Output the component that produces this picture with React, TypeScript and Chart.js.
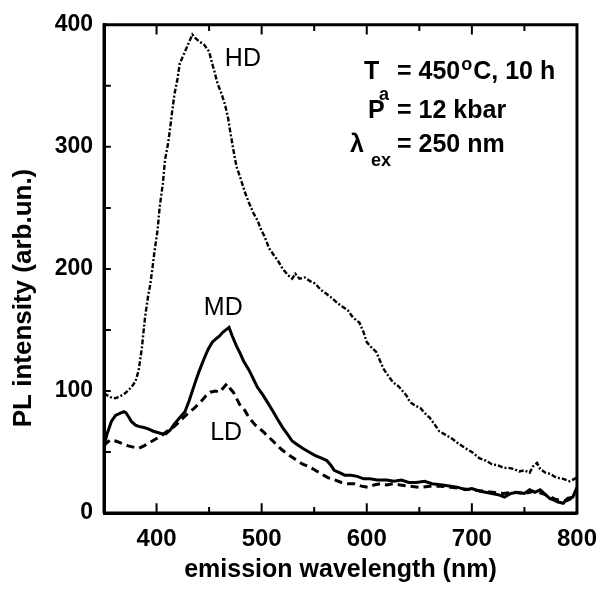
import React, { useEffect, useRef } from 'react';
import { Chart, registerables } from 'chart.js';

Chart.register(...registerables);

// ---- data ----
const hdWavelength = [350, 352, 356, 361, 366, 370, 376, 380, 383, 386, 389, 392, 394, 396, 398, 401, 403, 406, 408, 411, 413, 415, 417, 420, 422, 425, 428, 431, 434, 437, 441, 445, 450, 453, 455, 458, 462, 465, 468, 470, 473, 476, 480, 484, 488, 492, 496, 499, 503, 507, 511, 516, 520, 525, 529, 532, 536, 541, 546, 551, 556, 561, 567, 572, 577, 582, 587, 593, 597, 600, 604, 609, 612, 616, 620, 625, 630, 635, 638, 641, 646, 651, 655, 660, 665, 669, 675, 681, 687, 694, 700, 707, 713, 719, 725, 730, 735, 740, 745, 750, 755, 758, 762, 765, 770, 775, 780, 787, 793, 800];
const hdIntensity = [96, 97, 95, 94, 96, 98, 103, 108, 117, 135, 160, 178, 187, 200, 214, 232, 251, 270, 289, 303, 316, 330, 343, 356, 368, 374, 380, 386, 392, 389, 386, 384, 378, 368, 362, 352, 343, 335, 324, 313, 298, 284, 274, 263, 254, 246, 240, 233, 226, 217, 212, 206, 200, 195, 192, 196, 192, 193, 190, 188, 183, 180, 176, 172, 169, 166, 160, 156, 148, 140, 136, 132, 126, 118, 113, 107, 104, 99, 96, 91, 88, 86, 82, 78, 72, 67, 64, 61, 57, 53, 50, 45, 43, 40, 39, 37, 37, 36, 34, 35, 33, 38, 41, 36, 33, 32, 29, 28, 26, 29];

const mdWavelength = [350, 353, 357, 361, 366, 369, 371, 374, 376, 380, 383, 388, 392, 397, 401, 405, 409, 413, 417, 422, 427, 431, 436, 440, 445, 449, 453, 457, 460, 463, 466, 469, 472, 476, 480, 483, 488, 492, 496, 501, 506, 511, 515, 520, 525, 529, 534, 539, 545, 551, 557, 562, 566, 569, 574, 579, 585, 591, 597, 603, 610, 619, 626, 633, 640, 647, 655, 662, 672, 680, 687, 694, 700, 707, 713, 719, 725, 731, 737, 743, 750, 755, 760, 765, 770, 774, 777, 782, 787, 791, 796, 800];
const mdIntensity = [55, 65, 75, 80, 82, 83, 82, 78, 75, 72, 71, 70, 69, 67, 66, 65, 65, 68, 73, 78, 83, 92, 105, 115, 126, 134, 140, 143, 145, 148, 150, 152, 145, 137, 130, 124, 117, 110, 103, 97, 90, 83, 77, 70, 64, 59, 56, 53, 50, 47, 45, 43, 39, 35, 33, 31, 31, 30, 28, 28, 27, 27, 26, 27, 25, 25, 26, 24, 23, 22, 21, 19, 20, 18, 17, 16, 15, 13, 16, 17, 16, 19, 17, 19, 15, 12, 11, 9, 8, 12, 13, 21];

const ldWavelength = [350, 352, 356, 361, 367, 373, 378, 383, 388, 392, 398, 404, 410, 417, 423, 429, 436, 442, 447, 451, 456, 460, 464, 467, 470, 473, 476, 479, 484, 488, 494, 501, 507, 513, 519, 525, 532, 539, 545, 551, 557, 563, 570, 576, 582, 588, 595, 601, 607, 613, 619, 625, 632, 640, 651, 660, 670, 680, 690, 700, 710, 720, 730, 740, 750, 760, 770, 780, 790, 800];
const ldIntensity = [55, 57, 60, 59, 57, 55, 54, 53, 55, 57, 60, 63, 67, 71, 76, 81, 86, 91, 96, 99, 100, 99, 103, 106, 102, 99, 94, 89, 84, 78, 72, 67, 62, 57, 52, 48, 44, 40, 38, 35, 32, 29, 27, 25, 24, 24, 22, 21, 23, 24, 23, 24, 23, 22, 21, 22, 22, 21, 20, 19, 18, 17, 16, 17, 16, 18, 15, 11, 10, 14];

const xTickLabels = [400, 500, 600, 700, 800];
const yTickLabels = [0, 100, 200, 300, 400];
const xInnerTicks = [400, 450, 500, 550, 600, 650, 700, 750];
const yInnerTicks = [50, 100, 150, 200, 250, 300, 350];

const X_MIN = 350, X_MAX = 800, Y_MIN = 0, Y_MAX = 400;

const curveNames = ['HD', 'MD', 'LD'];
// label anchors in data coordinates [wavelength, intensity]
const curveLabelAnchors: [number, number][] = [[465, 366], [445, 162], [451, 60]];

const yTitle = 'PL intensity (arb.un.)';
const xTitle = 'emission wavelength (nm)';

const FONT = '"Liberation Sans", Arial, Helvetica, sans-serif';

const textPlugin = {
  id: 'texts',
  afterDraw(chart: any) {
    const ctx = chart.ctx;
    const x = chart.scales.x;
    const y = chart.scales.y;
    ctx.save();
    ctx.fillStyle = '#000';

    // y axis title
    ctx.save();
    ctx.translate(24, 298);
    ctx.rotate(-Math.PI / 2);
    ctx.font = `bold 26px ${FONT}`;
    ctx.textAlign = 'center';
    ctx.textBaseline = 'middle';
    ctx.fillText(yTitle, 0, 0);
    ctx.restore();

    // curve labels
    ctx.font = `25px ${FONT}`;
    ctx.textBaseline = 'alphabetic';
    ctx.textAlign = 'left';
    curveNames.forEach((n, i) => {
      const [wx, wy] = curveLabelAnchors[i];
      ctx.fillText(n, x.getPixelForValue(wx), y.getPixelForValue(wy));
    });

    // annotation
    const big = `bold 25px ${FONT}`;
    const small = `bold 18px ${FONT}`;
    ctx.font = big;
    ctx.fillText('T', 364, 79);
    ctx.fillText('= 450', 397, 79);
    const w = ctx.measureText('= 450').width;
    ctx.font = small;
    ctx.fillText('o', 397 + w + 1, 70);
    const wo = ctx.measureText('o').width;
    ctx.font = big;
    ctx.fillText('C, 10 h', 397 + w + wo + 2, 79);
    ctx.font = small;
    ctx.fillText('a', 379, 100);
    ctx.font = big;
    ctx.fillText('P', 368, 118);
    ctx.fillText('= 12 kbar', 397, 118);
    ctx.fillText('λ', 350, 152);
    ctx.font = small;
    ctx.fillText('ex', 371, 166);
    ctx.font = big;
    ctx.fillText('= 250 nm', 397, 152);
    ctx.restore();
  },
};

// tick-mark lengths expressed in data units (approx. 10 px / 6 px / 7 px)
const MAJOR_LEN_Y = 8;
const MINOR_LEN_Y = 5;
const LEFT_LEN_X = 6.5;

function buildTickSegments() {
  const pts: { x: number; y: number | null }[] = [];
  for (const v of xInnerTicks) {
    const len = v % 100 === 0 ? MAJOR_LEN_Y : MINOR_LEN_Y;
    pts.push({ x: v, y: Y_MIN }, { x: v, y: Y_MIN + len }, { x: v, y: null });
    pts.push({ x: v, y: Y_MAX }, { x: v, y: Y_MAX - len }, { x: v, y: null });
  }
  for (const v of yInnerTicks) {
    pts.push({ x: X_MIN, y: v }, { x: X_MIN + LEFT_LEN_X, y: v }, { x: X_MIN + LEFT_LEN_X, y: null });
  }
  return pts;
}

export default function App() {
  const ref = useRef<HTMLCanvasElement | null>(null);
  useEffect(() => {
    if (!ref.current) return;
    const toPts = (xs: number[], ys: number[]) => xs.map((v, i) => ({ x: v, y: ys[i] }));
    const chart = new Chart(ref.current, {
      type: 'line',
      data: {
        datasets: [
          {
            label: 'HD',
            data: toPts(hdWavelength, hdIntensity),
            borderColor: '#000',
            borderWidth: 2.4,
            borderDash: [5, 2, 2, 2],
            pointRadius: 0,
            tension: 0,
          },
          {
            label: 'MD',
            data: toPts(mdWavelength, mdIntensity),
            borderColor: '#000',
            borderWidth: 3,
            pointRadius: 0,
            tension: 0,
          },
          {
            label: 'LD',
            data: toPts(ldWavelength, ldIntensity),
            borderColor: '#000',
            borderWidth: 3,
            borderDash: [8, 5],
            pointRadius: 0,
            tension: 0,
          },
          {
            label: 'frame',
            data: [
              { x: X_MIN, y: Y_MIN },
              { x: X_MIN, y: Y_MAX },
              { x: X_MAX, y: Y_MAX },
              { x: X_MAX, y: Y_MIN },
              { x: X_MIN, y: Y_MIN },
            ],
            borderColor: '#000',
            borderWidth: 3,
            pointRadius: 0,
            tension: 0,
            clip: 6,
          } as any,
          {
            label: 'ticks',
            data: buildTickSegments(),
            borderColor: '#000',
            borderWidth: 2,
            pointRadius: 0,
            tension: 0,
            spanGaps: false,
            clip: 6,
          } as any,
        ],
      },
      options: {
        animation: false,
        responsive: true,
        maintainAspectRatio: false,
        layout: { padding: { left: 0, right: 22, top: 17, bottom: 0 } },
        plugins: { legend: { display: false }, tooltip: { enabled: false } },
        scales: {
          x: {
            type: 'linear',
            min: X_MIN,
            max: X_MAX,
            grid: { display: false, drawTicks: false },
            border: { display: true, width: 3, color: '#000' },
            ticks: {
              stepSize: 50,
              autoSkip: false,
              maxRotation: 0,
              padding: 12,
              color: '#000',
              font: { family: FONT, size: 24, weight: 'bold' },
              callback: (v: any) => (xTickLabels.includes(Number(v)) ? String(v) : ''),
            },
            title: {
              display: true,
              text: xTitle,
              color: '#000',
              font: { family: FONT, size: 25, weight: 'bold' },
              padding: { top: 0, bottom: 8 },
            },
            afterFit: (s: any) => {
              s.height = 80;
            },
          },
          y: {
            type: 'linear',
            min: Y_MIN,
            max: Y_MAX,
            grid: { display: false, drawTicks: false },
            border: { display: true, width: 3, color: '#000' },
            ticks: {
              stepSize: 50,
              autoSkip: false,
              padding: 11,
              color: '#000',
              font: { family: FONT, size: 23, weight: 'bold' },
              callback: (v: any) => (yTickLabels.includes(Number(v)) ? String(v) : ''),
            },
            afterFit: (s: any) => {
              s.width = 104;
            },
          },
        },
      },
      plugins: [textPlugin],
    });
    return () => chart.destroy();
  }, []);
  return (
    <div style={{ position: 'fixed', left: 0, top: 0, width: 609, height: 593, background: '#fff' }}>
      <canvas ref={ref} />
    </div>
  );
}
